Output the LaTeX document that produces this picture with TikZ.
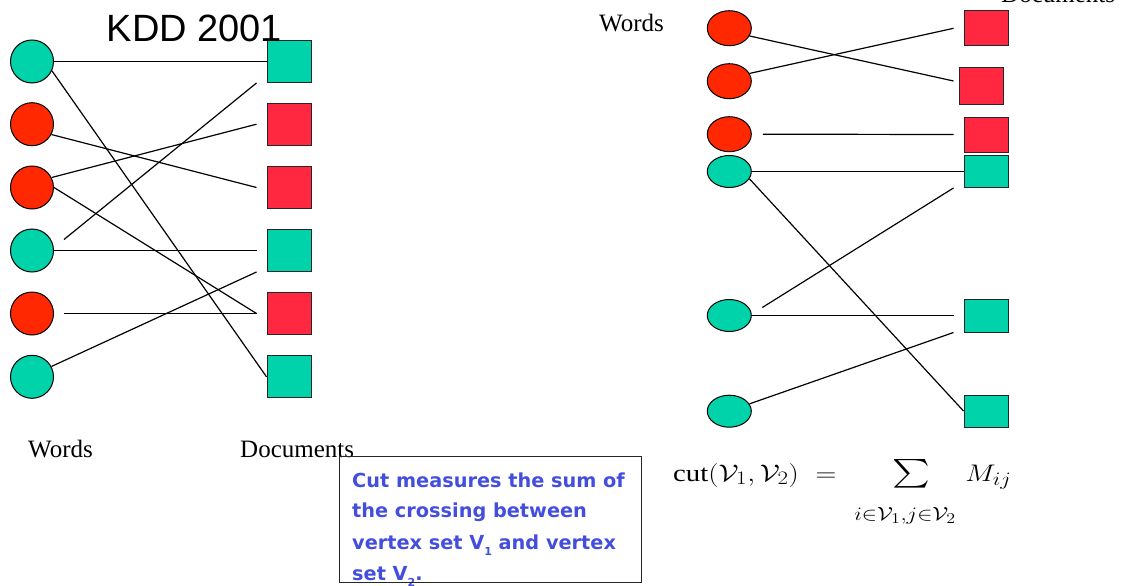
\RequirePackage{fix-cm}
\documentclass[tikz,border=0pt]{standalone}
\usepackage{exscale}
\usepackage{graphicx}
\usepackage{fontspec}
\setmainfont{Liberation Serif}
\newfontfamily\kddfont{Liberation Sans}
\newfontfamily\boxfont{DejaVu Sans}
\usetikzlibrary{shapes.geometric}
\DeclareMathSizes{24}{24}{19}{15}
\definecolor{tealc}{RGB}{0,210,170}
\definecolor{redc}{RGB}{255,40,0}
\definecolor{reds}{RGB}{255,40,64}
\definecolor{bluet}{RGB}{68,78,222}
\newcommand\vsubs[1]{\raisebox{-0.32em}{\fontsize{11}{11}\selectfont #1}}
\begin{document}
\begin{tikzpicture}[x=1pt,y=-1pt,
  wcirc/.style={circle,draw=black,line width=1pt,minimum size=43pt,inner sep=0pt},
  wellip/.style={ellipse,draw=black,line width=1pt,minimum width=44pt,minimum height=33pt,inner sep=0pt},
  dsq/.style={rectangle,draw=black!85,line width=1pt,minimum width=44pt,inner sep=0pt},
  link/.style={line width=1.2pt,black},
  lbl/.style={font=\fontsize{25}{25}\selectfont,inner sep=0pt,anchor=base west},
  boxtxt/.style={font=\boxfont\bfseries\fontsize{19.3}{19.3}\selectfont,text=bluet,inner sep=0pt,anchor=base west}
]
\useasboundingbox (0,0) rectangle (1124,586);

% ---- left graph ----
\node[wcirc,fill=tealc] (c1) at (32,61.5) {};
\node[wcirc,fill=redc] (c2) at (32,124.2) {};
\node[wcirc,fill=redc] (c3) at (32,187.5) {};
\node[wcirc,fill=tealc] (c4) at (32,250.5) {};
\node[wcirc,fill=redc] (c5) at (32,313.5) {};
\node[wcirc,fill=tealc] (c6) at (32,376.8) {};

\node[dsq,minimum height=42pt,fill=tealc] (s1) at (289,61.5) {};
\node[dsq,minimum height=42pt,fill=reds] (s2) at (289,124.2) {};
\node[dsq,minimum height=42pt,fill=reds] (s3) at (289,187.5) {};
\node[dsq,minimum height=42pt,fill=tealc] (s4) at (289,250.5) {};
\node[dsq,minimum height=42pt,fill=reds] (s5) at (289,313.5) {};
\node[dsq,minimum height=42pt,fill=tealc] (s6) at (289,376.8) {};

\draw[link] (c1.east) -- (s1.west);
\draw[link] (c1.-25) -- (s6.west);
\draw[link] (c2.-28) -- ([xshift=-10pt]s3.west);
\draw[link] (c3.27) -- ([xshift=-10pt]s2.west);
\draw[link] (c3.east) -- ([xshift=-10pt]s5.west);
\draw[link] ([xshift=32pt,yshift=11pt]c4.center) -- ([xshift=-10pt]s1.south west);
\draw[link] (c4.east) -- ([xshift=-10pt]s4.west);
\draw[link] ([xshift=32pt]c5.center) -- ([xshift=-10pt]s5.west);
\draw[link] (c6.28) -- ([xshift=-10pt]s4.south west);

\node[font=\kddfont\fontsize{38}{38}\selectfont,anchor=base,inner sep=0pt] (title) at (194.5,42) {KDD 2001};
\node[lbl] (wordsL) at (28,457) {Words};
\node[lbl] (docsL) at (240,457) {Documents};

% ---- right graph ----
\node[wellip,minimum height=35pt,fill=redc] (r1) at (729.3,28.2) {};
\node[wellip,minimum height=35pt,fill=redc] (r2) at (729.3,81.2) {};
\node[wellip,minimum height=35pt,fill=redc] (r3) at (729.3,134.2) {};
\node[wellip,minimum height=32pt,fill=tealc] (t1) at (729.3,171.5) {};
\node[wellip,minimum height=32pt,fill=tealc] (t2) at (729.3,315.5) {};
\node[wellip,minimum height=32pt,fill=tealc] (t3) at (729.3,411.2) {};

\node[dsq,minimum height=35pt,fill=reds] (rs1) at (986,28.3) {};
\node[dsq,minimum height=36pt,fill=reds] (rs2) at (981,86) {};
\node[dsq,minimum height=35pt,fill=reds] (rs3) at (986,134.5) {};
\node[dsq,minimum height=32pt,fill=tealc] (ts1) at (986,171.5) {};
\node[dsq,minimum height=33pt,fill=tealc] (ts2) at (986,315.5) {};
\node[dsq,minimum height=32pt,fill=tealc] (ts3) at (986,411) {};

\draw[link] (r1.-21) -- ([xshift=-5pt,yshift=5pt]rs2.west);
\draw[link] (r2.21) -- ([xshift=-10pt]rs1.west);
\draw[link] ([xshift=11pt]r3.east) -- ([xshift=-10pt]rs3.west);
\draw[link] (t1.east) -- (ts1.west);
\draw[link] (t1.-20) -- (ts3.west);
\draw[link] ([xshift=33pt,yshift=8pt]t2.center) -- ([xshift=-10pt]ts1.south west);
\draw[link] (t2.east) -- ([xshift=-10pt]ts2.west);
\draw[link] (t3.20) -- ([xshift=-10pt]ts2.south west);

\node[lbl] (wordsR) at (599,32) {Words};
\node[lbl] (docsR) at (1001,3) {Documents};

% ---- text box ----
\node[boxtxt] (bt1) at (352,487) {Cut measures the sum of};
\node[boxtxt] (bt2) at (352,517) {the crossing between};
\node[boxtxt] (bt3) at (352,549) {vertex set V\vsubs{1} and vertex};
\node[boxtxt] (bt4) at (352,580) {set V\vsubs{2}.};
\node[draw=black!85,line width=1pt,inner sep=0pt,minimum width=302pt,minimum height=126pt,anchor=north west] (box) at (339,456) {};

% ---- formula ----
\node[anchor=base west,inner sep=0pt,font=\fontsize{24}{24}\selectfont] (cutf) at (673,481)
  {\scalebox{1.2}[1]{$\mathrm{cut}(\mathcal{V}_1,\mathcal{V}_2)\hspace{14pt}{=}\hspace{11pt}\mathop{\hspace{10pt}\scalebox{1.2}[1.15]{$\textstyle\sum$}}\limits_{\raisebox{-17pt}{$\scriptstyle i\in\mathcal{V}_1,j\in\mathcal{V}_2$}}\hspace{4pt}M_{ij}$}};
\end{tikzpicture}
\end{document}
